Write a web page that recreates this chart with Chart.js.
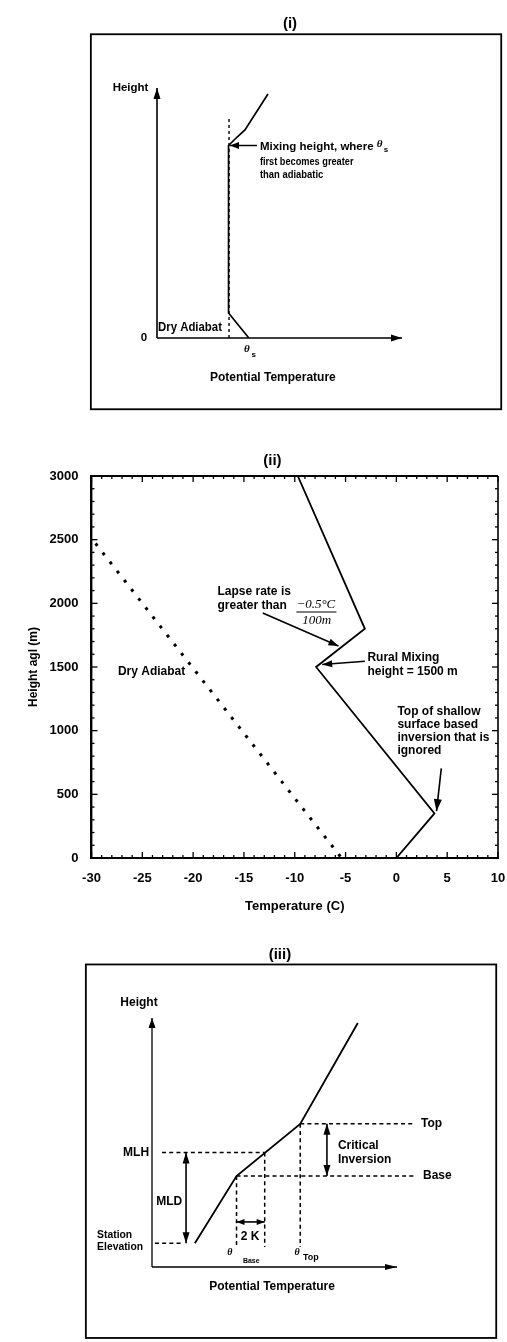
<!DOCTYPE html>
<html>
<head>
<meta charset="utf-8">
<script src="https://cdn.jsdelivr.net/npm/chart.js@4.4.1/dist/chart.umd.min.js"></script>
<style>
  html, body { margin: 0; padding: 0; background: #fff; }
  #wrap { position: relative; width: 507px; height: 1342px; overflow: hidden; background: #fff; }
  canvas { position: absolute; left: 0; }
</style>
</head>
<body>
<div id="wrap">
  <canvas id="c1" width="507" height="440" style="top:0px"></canvas>
  <canvas id="c2" width="507" height="490" style="top:440px"></canvas>
  <canvas id="c3" width="507" height="412" style="top:930px"></canvas>
</div>
<script>
// ---------- (i) schematic profile, arbitrary units 0..100 ----------
const p1Theta  = [37.5, 29.2, 29.2, 32.7, 35.9, 45.3];
const p1Height = [0, 10, 77, 80.4, 83.2, 97.6];
const p1AdiabatTheta  = [29.4, 29.4];
const p1AdiabatHeight = [0, 88.4];
const p1MixingHeight = 77;

// ---------- (ii) temperature sounding ----------
const tempC   = [0, 3.75, -7.9, -3.1, -9.7];
const heightM = [0, 350, 1500, 1800, 3000];
const adiabatTempC   = [-29.6, -5.4];
const adiabatHeightM = [2470, 0];
const xTickLabels = [-30, -25, -20, -15, -10, -5, 0, 5, 10];
const yTickLabels = [0, 500, 1000, 1500, 2000, 2500, 3000];

// ---------- (iii) schematic profile, arbitrary units 0..100 ----------
const p3Theta  = [17.5, 34.5, 60.5, 84];
const p3Height = [9.5, 36.5, 57.5, 98];
const thetaBase = 34.5, thetaMLH = 46, thetaTop = 60.5;   // thetaMLH = thetaBase + 2 K
const zStation = 9.5, zBase = 36.5, zMLH = 46, zTop = 57.5;

const FAMILY = '"Liberation Sans", Arial, Helvetica, sans-serif';
const SERIF  = '"Liberation Serif", "Times New Roman", serif';
const BOX = { x0: -27, x1: 140.5, y0: -28.5, y1: 121.5 };

function pts(xs, ys) { return xs.map((x, i) => ({ x, y: ys[i] })); }

function label(ctx, s, x, y, o = {}) {
  ctx.save();
  ctx.font = `${o.italic ? 'italic ' : ''}${o.weight || 'bold'} ${o.size || 12}px ${o.family || FAMILY}`;
  ctx.fillStyle = '#000';
  ctx.textAlign = o.align || 'left';
  ctx.textBaseline = 'middle';
  ctx.translate(x, y);
  if (o.rotate) ctx.rotate(o.rotate);
  ctx.scale(o.sx || 1, 1);
  ctx.fillText(s, 0, 0);
  const w = ctx.measureText(s).width * (o.sx || 1);
  ctx.restore();
  return w;
}
function seg(ctx, x1, y1, x2, y2, lw = 1.5, dash = []) {
  ctx.save();
  ctx.strokeStyle = '#000'; ctx.lineWidth = lw; ctx.setLineDash(dash);
  ctx.beginPath(); ctx.moveTo(x1, y1); ctx.lineTo(x2, y2); ctx.stroke();
  ctx.restore();
}
function head(ctx, x1, y1, x2, y2, len = 8, half = 3) {
  const a = Math.atan2(y2 - y1, x2 - x1), c = Math.cos(a), s = Math.sin(a);
  ctx.save(); ctx.fillStyle = '#000'; ctx.beginPath();
  ctx.moveTo(x2, y2);
  ctx.lineTo(x2 - len * c - half * s, y2 - len * s + half * c);
  ctx.lineTo(x2 - len * c + half * s, y2 - len * s - half * c);
  ctx.closePath(); ctx.fill(); ctx.restore();
}
function arrow(ctx, x1, y1, x2, y2, o = {}) {
  seg(ctx, x1, y1, x2, y2, o.lw || 1.5);
  head(ctx, x1, y1, x2, y2, o.len || 8, o.half || 3);
  if (o.both) head(ctx, x2, y2, x1, y1, o.len || 8, o.half || 3);
}
function overlay(id, draw) {
  return {
    id,
    afterDatasetsDraw(chart) {
      const X = v => chart.scales.x.getPixelForValue(v);
      const Y = v => chart.scales.y.getPixelForValue(v);
      chart.ctx.save();
      draw(chart.ctx, X, Y, chart);
      chart.ctx.restore();
    }
  };
}
function frame(ctx, X, Y) {
  ctx.save(); ctx.strokeStyle = '#000'; ctx.lineWidth = 1.8;
  ctx.strokeRect(X(BOX.x0), Y(BOX.y1), X(BOX.x1) - X(BOX.x0), Y(BOX.y0) - Y(BOX.y1));
  ctx.restore();
}
function schematicOptions(padding) {
  return {
    animation: false, responsive: false, events: [],
    layout: { padding },
    scales: {
      x: { type: 'linear', min: 0, max: 100, display: false },
      y: { type: 'linear', min: 0, max: 100, display: false }
    },
    plugins: { legend: { display: false }, tooltip: { enabled: false } }
  };
}

// ================= (i) =================
new Chart(document.getElementById('c1'), {
  type: 'scatter',
  data: {
    datasets: [
      { data: pts(p1Theta, p1Height), showLine: true, borderColor: '#000', borderWidth: 1.7,
        pointRadius: 0, clip: false },
      { data: pts(p1AdiabatTheta, p1AdiabatHeight), showLine: true, borderColor: '#000', borderWidth: 1.4,
        borderDash: [3, 3], pointRadius: 0, clip: false }
    ]
  },
  options: schematicOptions({ left: 157, right: 105, top: 88, bottom: 102 }),
  plugins: [overlay('panel1', (ctx, X, Y) => {
    frame(ctx, X, Y);
    label(ctx, '(i)', X(54.3), Y(125.6), { size: 15, align: 'center' });
    arrow(ctx, X(0), Y(0), X(0), Y(100), { lw: 1.6, len: 11, half: 3.5 });
    arrow(ctx, X(0), Y(0), X(100), Y(0), { lw: 1.6, len: 11, half: 3.5 });
    label(ctx, 'Height', X(-3.5), Y(100), { size: 11.5, align: 'right' });
    label(ctx, '0', X(-4), Y(0), { size: 11.5, align: 'right' });
    label(ctx, 'Dry Adiabat', X(0.4), Y(4.1), { size: 12, sx: 0.95 });
    // theta_s on the temperature axis
    label(ctx, 'θ', X(35.5), Y(-4.4), { size: 11, family: SERIF, italic: true });
    label(ctx, 's', X(38.6), Y(-6.6), { size: 8 });
    label(ctx, 'Potential Temperature', X(47.3), Y(-16), { size: 12, align: 'center' });
    // mixing height note
    arrow(ctx, X(40.8), Y(p1MixingHeight), X(29.8), Y(p1MixingHeight), { lw: 1.5, len: 9, half: 3.5 });
    const w = label(ctx, 'Mixing height, where ', X(42), Y(76.6), { size: 11.5 });
    label(ctx, 'θ', X(42) + w, Y(77.4), { size: 11, family: SERIF, italic: true });
    label(ctx, 's', X(42) + w + 7, Y(75.2), { size: 8 });
    label(ctx, 'first becomes greater', X(42), Y(70.6), { size: 11.5, sx: 0.8 });
    label(ctx, 'than adiabatic', X(42), Y(65.4), { size: 11.5, sx: 0.82 });
  })]
});

// ================= (ii) =================
const xMinorStep = 1, yMinorStep = 100;
new Chart(document.getElementById('c2'), {
  type: 'scatter',
  data: {
    datasets: [
      { data: pts(tempC, heightM), showLine: true, borderColor: '#000', borderWidth: 1.8, pointRadius: 0 },
      { data: pts(adiabatTempC, adiabatHeightM), showLine: true, borderColor: '#000', borderWidth: 3,
        borderDash: [3, 8.6], pointRadius: 0 }
    ]
  },
  options: {
    animation: false, responsive: false, events: [],
    layout: { padding: { left: 0, right: 9, top: 36, bottom: 0 } },
    scales: {
      x: {
        type: 'linear', min: -30, max: 10,
        afterBuildTicks(s) { s.ticks = xTickLabels.map(v => ({ value: v })); },
        afterFit(s) { s.height = 72; s.paddingLeft = 0; s.paddingRight = 0; },
        ticks: { color: '#000', font: { family: FAMILY, size: 13, weight: 'bold' }, padding: 5,
                 maxRotation: 0, autoSkip: false, callback: v => String(v) },
        grid: { display: false },
        border: { display: true, color: '#000', width: 2 },
        title: { display: true, text: 'Temperature (C)', color: '#000',
                 font: { family: FAMILY, size: 13, weight: 'bold' }, padding: { top: 0, bottom: 16 } }
      },
      y: {
        type: 'linear', min: 0, max: 3000,
        afterBuildTicks(s) { s.ticks = yTickLabels.map(v => ({ value: v })); },
        afterFit(s) { s.width = 91.5; s.paddingTop = 0; s.paddingBottom = 0; },
        ticks: { color: '#000', font: { family: FAMILY, size: 13, weight: 'bold' }, padding: 5,
                 autoSkip: false, callback: v => String(v) },
        grid: { display: false },
        border: { display: true, color: '#000', width: 2.4 },
        title: { display: true, text: 'Height agl (m)', color: '#000',
                 font: { family: FAMILY, size: 12, weight: 'bold' }, padding: { top: 26, bottom: 0 } }
      }
    },
    plugins: { legend: { display: false }, tooltip: { enabled: false } }
  },
  plugins: [overlay('panel2', (ctx, X, Y, chart) => {
    const a = chart.chartArea;
    seg(ctx, a.left, a.top, a.right, a.top, 2);
    seg(ctx, a.right, a.top, a.right, a.bottom, 1.6);
    // inward tick marks on all four sides
    const x0 = xTickLabels[0], x1 = xTickLabels[xTickLabels.length - 1];
    for (let v = x0; v <= x1; v += xMinorStep) {
      const L = xTickLabels.includes(v) ? 6 : 3, p = X(v);
      seg(ctx, p, a.bottom, p, a.bottom - L, 1.3);
      seg(ctx, p, a.top, p, a.top + L, 1.3);
    }
    const y0 = yTickLabels[0], y1 = yTickLabels[yTickLabels.length - 1];
    for (let v = y0; v <= y1; v += yMinorStep) {
      const L = yTickLabels.includes(v) ? 6 : 3, p = Y(v);
      seg(ctx, a.left, p, a.left + L, p, 1.3);
      seg(ctx, a.right, p, a.right - L, p, 1.3);
    }
    label(ctx, '(ii)', X(-12.2), Y(3118), { size: 15, align: 'center' });

    label(ctx, 'Dry Adiabat', X(-27.4), Y(1461), { size: 12 });

    label(ctx, 'Lapse rate is', X(-17.6), Y(2090), { size: 12 });
    label(ctx, 'greater than', X(-17.6), Y(1980), { size: 12 });
    label(ctx, '\u22120.5°C', X(-9.84), Y(1990), { size: 13, family: SERIF, italic: true, weight: 'normal' });
    seg(ctx, X(-9.84), Y(1932), X(-5.9), Y(1932), 1.1);
    label(ctx, '100m', X(-7.85), Y(1866), { size: 13, family: SERIF, italic: true, weight: 'normal', align: 'center' });
    arrow(ctx, X(-13.15), Y(1924), X(-5.7), Y(1665), { lw: 1.6, len: 10, half: 3.5 });

    label(ctx, 'Rural Mixing', X(-2.85), Y(1571), { size: 12 });
    label(ctx, 'height = 1500 m', X(-2.85), Y(1461), { size: 12 });
    arrow(ctx, X(-3.1), Y(1545), X(-7.3), Y(1520), { lw: 1.6, len: 10, half: 3.5 });

    label(ctx, 'Top of shallow', X(0.1), Y(1147), { size: 12 });
    label(ctx, 'surface based', X(0.1), Y(1045), { size: 12 });
    label(ctx, 'inversion that is', X(0.1), Y(942), { size: 12 });
    label(ctx, 'ignored', X(0.1), Y(840), { size: 12 });
    arrow(ctx, X(4.42), Y(704), X(3.95), Y(368), { lw: 1.6, len: 12, half: 4 });
  })]
});

// ================= (iii) =================
new Chart(document.getElementById('c3'), {
  type: 'scatter',
  data: {
    datasets: [
      { data: pts(p3Theta, p3Height), showLine: true, borderColor: '#000', borderWidth: 1.8,
        pointRadius: 0, clip: false }
    ]
  },
  options: schematicOptions({ left: 152, right: 110, top: 88, bottom: 75 }),
  plugins: [overlay('panel3', (ctx, X, Y) => {
    frame(ctx, X, Y);
    label(ctx, '(iii)', X(52.2), Y(125.2), { size: 15, align: 'center' });
    arrow(ctx, X(0), Y(0), X(0), Y(100), { lw: 1.3, len: 10, half: 3.5 });
    arrow(ctx, X(0), Y(0), X(100), Y(0), { lw: 1.5, len: 12, half: 3 });
    label(ctx, 'Height', X(-5.3), Y(106), { size: 12, align: 'center' });

    const D = [4, 3.2], lw = 1.5;
    seg(ctx, X(4.1), Y(zMLH), X(thetaMLH), Y(zMLH), lw, D);
    seg(ctx, X(thetaTop), Y(zTop), X(107.3), Y(zTop), lw, D);
    seg(ctx, X(thetaBase), Y(zBase), X(107.3), Y(zBase), lw, D);
    seg(ctx, X(1.2), Y(zStation), X(12.5), Y(zStation), lw, D);
    seg(ctx, X(thetaBase), Y(zBase), X(thetaBase), Y(8), lw, D);
    seg(ctx, X(thetaMLH), Y(zMLH), X(thetaMLH), Y(8), lw, D);
    seg(ctx, X(thetaTop), Y(zTop), X(thetaTop), Y(8), lw, D);

    arrow(ctx, X(13.9), Y(zStation), X(13.9), Y(zMLH), { lw: 1.6, len: 11, half: 3.5, both: true });
    arrow(ctx, X(71.4), Y(zBase), X(71.4), Y(zTop), { lw: 1.6, len: 11, half: 3.5, both: true });
    arrow(ctx, X(thetaBase), Y(18.1), X(thetaMLH), Y(18.1), { lw: 1.6, len: 8, half: 3, both: true });

    label(ctx, 'MLH', X(-1.2), Y(zMLH), { size: 12, align: 'right' });
    label(ctx, 'MLD', X(12.3), Y(26.1), { size: 12, align: 'right' });
    label(ctx, 'Station', X(-22.4), Y(12.9), { size: 11.5, sx: 0.9 });
    label(ctx, 'Elevation', X(-22.4), Y(8), { size: 11.5, sx: 0.9 });
    label(ctx, '2 K', X(40), Y(12), { size: 12, align: 'center' });
    label(ctx, 'θ', X(31.8), Y(5.8), { size: 10, family: SERIF, italic: true, align: 'center' });
    label(ctx, 'Base', X(37.1), Y(2.4), { size: 7 });
    label(ctx, 'θ', X(59.2), Y(5.8), { size: 10, family: SERIF, italic: true, align: 'center' });
    label(ctx, 'Top', X(61.6), Y(3.8), { size: 9 });
    label(ctx, 'Top', X(109.8), Y(zTop), { size: 12 });
    label(ctx, 'Base', X(110.6), Y(zBase), { size: 12 });
    label(ctx, 'Critical', X(75.9), Y(48.6), { size: 12 });
    label(ctx, 'Inversion', X(75.9), Y(43), { size: 12 });
    label(ctx, 'Potential Temperature', X(49), Y(-8), { size: 12, align: 'center' });
  })]
});
</script>
</body>
</html>
